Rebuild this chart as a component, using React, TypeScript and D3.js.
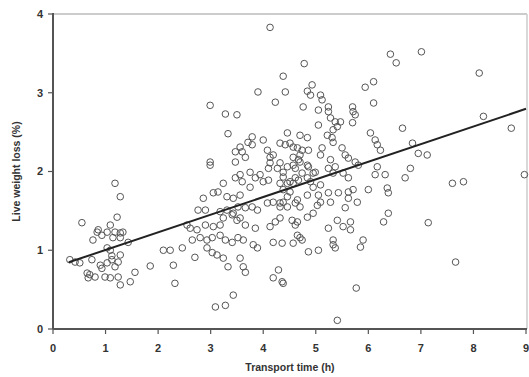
import React from "react";
import * as d3 from "d3";

const WIDTH = 529;
const HEIGHT = 377;

const xTicks = [0, 1, 2, 3, 4, 5, 6, 7, 8, 9];
const yTicks = [0, 1, 2, 3, 4];
const xTitle = "Transport time (h)";
const yTitle = "Live weight loss (%)";

// fitted line: loss = intercept + slope * time
const fitIntercept = 0.78;
const fitSlope = 0.224;
const fitRange = [0.3, 9];

// [transport time (h), live weight loss (%)]
const samples: [number, number][] = [
  [0.32, 0.88], [0.42, 0.85], [0.55, 1.35], [0.76, 1.13], [0.86, 1.26], [0.93, 1.19],
  [1.03, 1.23], [1.09, 1.32], [1.18, 1.23], [1.28, 1.22], [1.33, 1.23], [1.28, 1.16],
  [1.43, 1.1], [1.18, 1.85], [1.28, 1.68], [1.22, 1.42], [1.03, 1.03], [1.09, 1.0],
  [1.12, 0.93], [1.28, 0.94], [0.51, 0.84], [0.74, 0.88], [0.9, 0.81], [1.03, 0.84],
  [1.12, 0.88], [1.18, 0.79], [0.65, 0.71], [0.7, 0.69], [0.8, 0.66], [0.67, 0.65],
  [0.99, 0.66], [1.09, 0.65], [1.24, 0.66], [1.28, 0.56], [1.47, 0.6], [1.56, 0.72],
  [0.93, 0.77], [1.24, 0.85], [0.84, 1.23], [1.14, 1.16],
  [1.85, 0.8], [2.1, 1.0], [2.23, 1.0], [2.29, 0.81], [2.32, 0.58], [2.46, 1.03],
  [2.55, 1.32], [2.61, 1.28], [2.65, 1.13], [2.7, 0.91], [2.74, 1.26],
  [2.76, 1.51], [2.8, 1.16], [2.86, 1.66], [2.9, 1.51], [2.9, 1.32], [2.93, 1.13],
  [2.93, 1.03], [2.99, 2.84], [2.99, 2.12], [2.99, 2.08], [3.03, 1.16], [3.03, 0.97],
  [3.05, 1.73], [3.05, 1.3], [3.09, 0.28], [3.12, 0.94], [3.14, 1.74], [3.18, 1.49],
  [3.18, 1.32], [3.18, 1.19], [3.24, 1.85], [3.24, 1.41], [3.24, 0.9], [3.28, 2.73],
  [3.28, 1.13], [3.28, 0.3], [3.31, 1.68], [3.31, 1.51], [3.33, 2.48], [3.33, 0.79],
  [3.41, 1.45], [3.41, 1.1], [3.43, 1.66], [3.43, 1.47], [3.43, 0.43], [3.47, 2.25],
  [3.47, 2.12], [3.47, 1.92], [3.5, 2.72], [3.5, 1.38], [3.52, 1.55], [3.52, 1.16],
  [3.56, 2.31], [3.56, 1.96], [3.56, 1.7], [3.56, 1.41], [3.56, 0.9], [3.6, 2.25],
  [3.6, 1.87], [3.62, 1.13], [3.62, 0.79], [3.66, 2.18], [3.66, 1.54], [3.66, 1.32],
  [3.66, 0.72], [3.71, 2.37], [3.75, 1.99], [3.75, 1.8], [3.79, 2.44], [3.79, 2.34],
  [3.79, 1.55], [3.81, 1.07], [3.85, 1.92], [3.85, 1.28], [3.89, 1.51], [3.89, 1.03],
  [3.9, 3.01], [3.94, 1.96], [4.0, 2.4], [4.0, 1.87], [4.08, 2.27], [4.08, 1.6],
  [4.1, 2.04], [4.1, 1.89], [4.13, 3.83], [4.13, 2.18], [4.13, 2.11], [4.13, 1.3],
  [4.19, 2.21], [4.19, 1.61], [4.19, 1.1], [4.19, 0.65], [4.23, 2.88], [4.23, 1.36],
  [4.27, 2.04], [4.29, 0.75], [4.32, 2.36], [4.32, 1.6], [4.32, 1.41], [4.36, 1.09],
  [4.36, 0.6],
  [4.38, 3.21], [4.42, 3.01], [4.46, 2.49], [4.38, 1.99], [4.46, 1.85], [4.46, 1.68],
  [4.42, 2.34], [4.51, 2.36], [4.57, 2.31], [4.65, 2.3], [4.74, 2.27], [4.86, 2.27],
  [4.7, 2.46], [4.84, 2.43], [4.32, 2.11], [4.46, 2.06], [4.57, 2.08], [4.7, 2.12],
  [4.84, 2.08], [4.57, 2.18], [4.67, 2.15], [4.86, 2.06], [4.99, 1.99], [4.61, 2.04],
  [4.74, 1.98], [4.61, 1.92], [4.51, 1.87], [4.38, 1.93], [4.32, 1.85], [4.57, 1.85],
  [4.67, 1.89], [4.84, 1.92], [4.95, 1.98], [4.38, 1.77], [4.51, 1.74], [4.9, 1.87],
  [4.95, 1.8], [5.09, 1.83], [4.84, 1.7], [5.05, 1.7], [4.38, 1.61], [4.32, 1.55],
  [4.46, 1.55], [4.65, 1.64], [4.61, 1.6], [4.7, 1.55], [4.95, 1.47], [4.84, 1.42],
  [4.55, 1.38], [4.65, 1.36], [4.61, 1.32], [4.65, 1.19], [4.7, 1.16], [4.74, 1.13],
  [4.57, 1.09], [4.86, 0.98], [5.05, 1.0], [4.38, 0.58], [4.78, 3.37], [4.93, 3.1],
  [4.84, 3.02], [4.9, 2.97], [5.09, 2.97], [4.76, 2.82], [5.05, 2.78], [5.05, 2.59],
  [5.09, 2.21], [4.7, 2.21], [5.12, 2.3], [5.03, 1.57], [5.09, 1.61],
  [5.28, 2.68], [5.37, 2.63], [5.47, 2.63], [5.41, 2.57], [5.33, 2.53], [5.24, 2.82],
  [5.24, 2.76], [5.12, 2.91], [5.22, 2.46], [5.31, 2.43], [5.33, 2.37], [5.5, 2.3],
  [5.56, 2.21], [5.62, 2.17], [5.28, 2.15], [5.37, 2.06], [5.24, 2.04], [5.33, 1.98],
  [5.75, 2.12], [5.81, 2.08], [5.52, 1.98], [5.62, 1.92], [5.7, 2.82], [5.71, 2.76],
  [5.75, 2.72], [5.7, 2.62], [5.24, 1.73], [5.43, 1.73], [5.62, 1.74], [5.71, 1.77],
  [5.28, 1.61], [5.62, 1.66], [5.79, 1.61], [5.56, 1.54], [5.41, 1.38], [5.24, 1.28],
  [5.52, 1.3], [5.66, 1.36], [5.66, 1.26], [5.33, 1.13], [5.33, 1.07], [5.37, 1.03],
  [5.77, 0.52], [5.41, 0.11],
  [5.94, 3.07], [6.1, 3.14], [6.1, 2.87], [6.04, 2.49], [6.13, 2.4], [6.17, 2.34],
  [6.23, 2.27], [6.17, 2.06], [6.13, 1.96], [6.32, 1.96], [6.0, 1.77], [6.36, 1.79],
  [6.38, 1.73], [6.38, 1.47], [6.29, 1.36], [5.9, 1.13], [5.85, 1.04], [6.42, 3.49],
  [6.53, 3.38], [7.01, 3.52], [6.65, 2.55], [6.84, 2.36], [6.95, 2.23], [7.12, 2.21],
  [6.7, 1.92], [6.8, 2.04],
  [7.14, 1.35], [7.6, 1.85], [7.81, 1.87], [7.66, 0.85], [8.11, 3.25], [8.19, 2.7],
  [8.72, 2.55], [8.97, 1.96],
];

const MARGIN = { top: 14, right: 2, bottom: 48, left: 53 };
const FONT = "'Liberation Sans', Arial, Helvetica, sans-serif";

export default function App() {
  const x = d3
    .scaleLinear()
    .domain([0, 9])
    .range([MARGIN.left, WIDTH - MARGIN.right - 1]);
  const y = d3
    .scaleLinear()
    .domain([0, 4])
    .range([HEIGHT - MARGIN.bottom, MARGIN.top]);

  const line = d3
    .line<number>()
    .x((t) => x(t))
    .y((t) => y(fitIntercept + fitSlope * t));

  const x0 = x(0);
  const y0 = y(0);
  const right = WIDTH - MARGIN.right;

  return (
    <svg
      width={WIDTH}
      height={HEIGHT}
      style={{ position: "absolute", left: 0, top: 0, background: "#fff" }}
      fontFamily={FONT}
    >
      {/* frame */}
      <line x1={x0} x2={right} y1={y(4)} y2={y(4)} stroke="#bbb" strokeWidth={1.5} />
      <line x1={right} x2={right} y1={y(4)} y2={y0} stroke="#ccc" strokeWidth={1.5} />

      {/* points */}
      <g fill="none" stroke="#555" strokeWidth={1}>
        {samples.map(([t, v], i) => (
          <circle key={i} cx={x(t)} cy={y(v)} r={3.3} />
        ))}
      </g>

      {/* fitted line */}
      <path d={line(fitRange) ?? ""} fill="none" stroke="#222" strokeWidth={2} />

      {/* axes */}
      <line x1={x0} x2={x0} y1={y(4) - 1} y2={y0} stroke="#555" strokeWidth={2} />
      <line x1={x0} x2={right} y1={y0} y2={y0} stroke="#555" strokeWidth={2} />

      {yTicks.map((v) => (
        <g key={v} transform={`translate(0,${y(v)})`}>
          <line x1={x0 - 5} x2={x0} stroke="#555" strokeWidth={1.2} />
          <text
            x={x0 - 10}
            dy="0.36em"
            textAnchor="end"
            fontSize={11}
            fontWeight="bold"
            fill="#333"
          >
            {v}
          </text>
        </g>
      ))}

      {xTicks.map((t) => (
        <g key={t} transform={`translate(${x(t)},0)`}>
          <line y1={y0} y2={y0 + 5} stroke="#555" strokeWidth={1.2} />
          <text
            y={y0 + 23}
            textAnchor="middle"
            fontSize={11}
            fontWeight="bold"
            fill="#333"
          >
            {t}
          </text>
        </g>
      ))}

      <text
        x={(x0 + right) / 2 + 0}
        y={HEIGHT - 6}
        textAnchor="middle"
        fontSize={10.5}
        fontWeight="bold"
        fill="#333"
      >
        {xTitle}
      </text>
      <text
        transform={`translate(20,${(y(0) + y(4)) / 2}) rotate(-90)`}
        textAnchor="middle"
        fontSize={10.5}
        fontWeight="bold"
        fill="#333"
      >
        {yTitle}
      </text>
    </svg>
  );
}
